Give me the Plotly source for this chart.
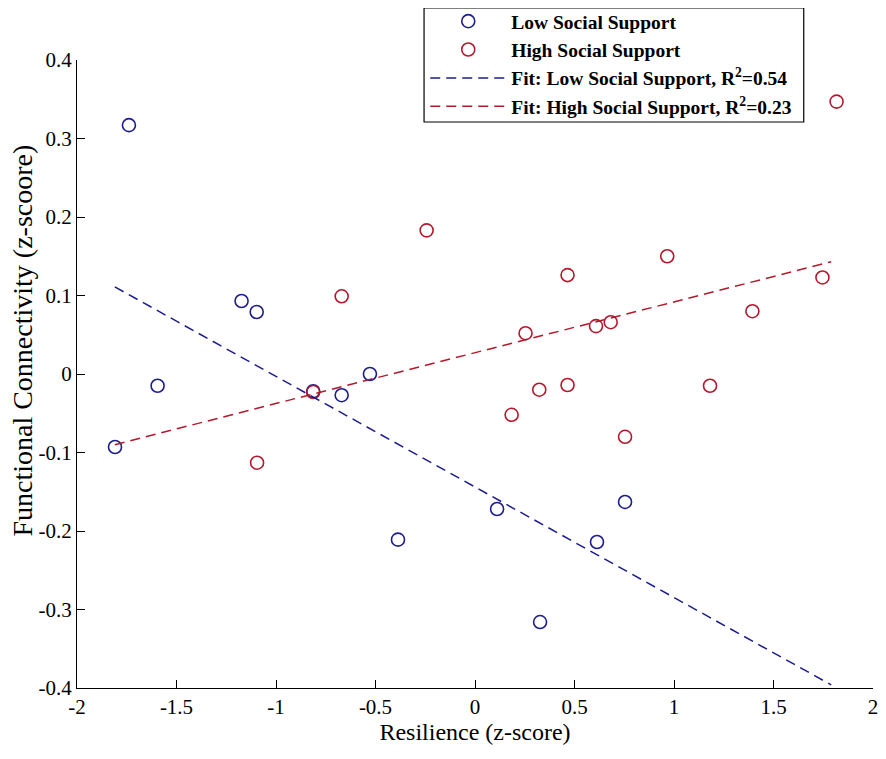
import plotly.graph_objects as go

# values
low_x = [-1.739, -1.595, -1.809, -1.173, -1.097, -0.813, -0.670, -0.528,
         -0.387, 0.111, 0.327, 0.613, 0.754]
low_y = [0.317, -0.015, -0.093, 0.093, 0.079, -0.022, -0.027, 0.000,
         -0.211, -0.172, -0.316, -0.214, -0.163]

high_x = [-1.095, -0.813, -0.670, -0.243, 0.254, 0.184, 0.323, 0.465,
          0.465, 0.608, 0.682, 0.754, 0.966, 1.181, 1.394, 1.746, 1.817]
high_y = [-0.113, -0.023, 0.099, 0.183, 0.052, -0.052, -0.020, 0.126,
          -0.014, 0.061, 0.066, -0.080, 0.150, -0.015, 0.080, 0.123, 0.347]

fit_x = [-1.81, 1.79]
low_fit_y = [0.111, -0.396]
high_fit_y = [-0.090, 0.143]

x_ticks = [-2, -1.5, -1, -0.5, 0, 0.5, 1, 1.5, 2]
x_ticktext = ["-2", "-1.5", "-1", "-0.5", "0", "0.5", "1", "1.5", "2"]
y_ticks = [-0.4, -0.3, -0.2, -0.1, 0, 0.1, 0.2, 0.3, 0.4]
y_ticktext = ["-0.4", "-0.3", "-0.2", "-0.1", "0", "0.1", "0.2", "0.3", "0.4"]

BLUE = "#1c1c8e"
RED = "#b3182c"
serif = "Liberation Serif"

data = [
    go.Scatter(x=low_x, y=low_y, mode="markers", name="Low Social Support",
               marker=dict(symbol="circle-open", size=13, color=BLUE,
                           line=dict(width=1.6, color=BLUE))),
    go.Scatter(x=high_x, y=high_y, mode="markers", name="High Social Support",
               marker=dict(symbol="circle-open", size=13, color=RED,
                           line=dict(width=1.6, color=RED))),
    go.Scatter(x=fit_x, y=low_fit_y, mode="lines",
               name="Fit: Low Social Support, R<sup>2</sup>=0.54",
               line=dict(color=BLUE, width=1.5, dash="10px,6px")),
    go.Scatter(x=fit_x, y=high_fit_y, mode="lines",
               name="Fit: High Social Support, R<sup>2</sup>=0.23",
               line=dict(color=RED, width=1.5, dash="10px,6px")),
]

axis_common = dict(showgrid=False, zeroline=False, showline=True,
                   linecolor="black", linewidth=1.2, ticks="inside",
                   ticklen=8, tickcolor="black", tickwidth=1.2,
                   automargin=False, ticklabeloverflow="allow",
                   tickfont=dict(family=serif, size=21, color="black"))

# the page body has an 8px margin, so the figure is sized to fit inside it
W, H = 878, 743
ML, MR, MT, MB = 69, 13, 52, 63
plot_h = H - MT - MB

layout = go.Layout(
    width=W, height=H,
    paper_bgcolor="white", plot_bgcolor="white",
    margin=dict(l=ML, r=MR, t=MT, b=MB, autoexpand=False),
    font=dict(family=serif, color="black"),
    xaxis=dict(axis_common, range=[-2, 2], tickvals=x_ticks,
               ticktext=x_ticktext,
               title=dict(text="Resilience (z-score)", standoff=4,
                          font=dict(family=serif, size=24, color="black"))),
    yaxis=dict(axis_common, range=[-0.4, 0.4], tickvals=y_ticks,
               ticktext=y_ticktext),
    # y title placed by hand: the reference label sits above the axis centre
    annotations=[dict(text="Functional Connectivity (z-scoore)",
                      textangle=-90, xref="paper", yref="paper",
                      x=-0.068, y=0.553, xanchor="center", yanchor="middle",
                      showarrow=False,
                      font=dict(family=serif, size=28, color="black"))],
    # legend frame drawn as a shape so the rows can sit close to its top edge
    shapes=[dict(type="rect", xref="paper", yref="paper", layer="above",
                 x0=0.436, x1=0.913, y0=(MT + plot_h - 114) / plot_h,
                 y1=1 + MT / plot_h,
                 fillcolor="white", line=dict(color="black", width=1.2))],
    legend=dict(x=0.4375, y=1 + (MT + 6) / plot_h, xanchor="left",
                yanchor="top", bgcolor="rgba(0,0,0,0)", borderwidth=0,
                font=dict(family=serif, size=19.5, color="black", weight="bold"),
                tracegroupgap=0, itemwidth=76),
    showlegend=True,
)

fig = go.Figure(data=data, layout=layout)
fig.write_html("out.html")
